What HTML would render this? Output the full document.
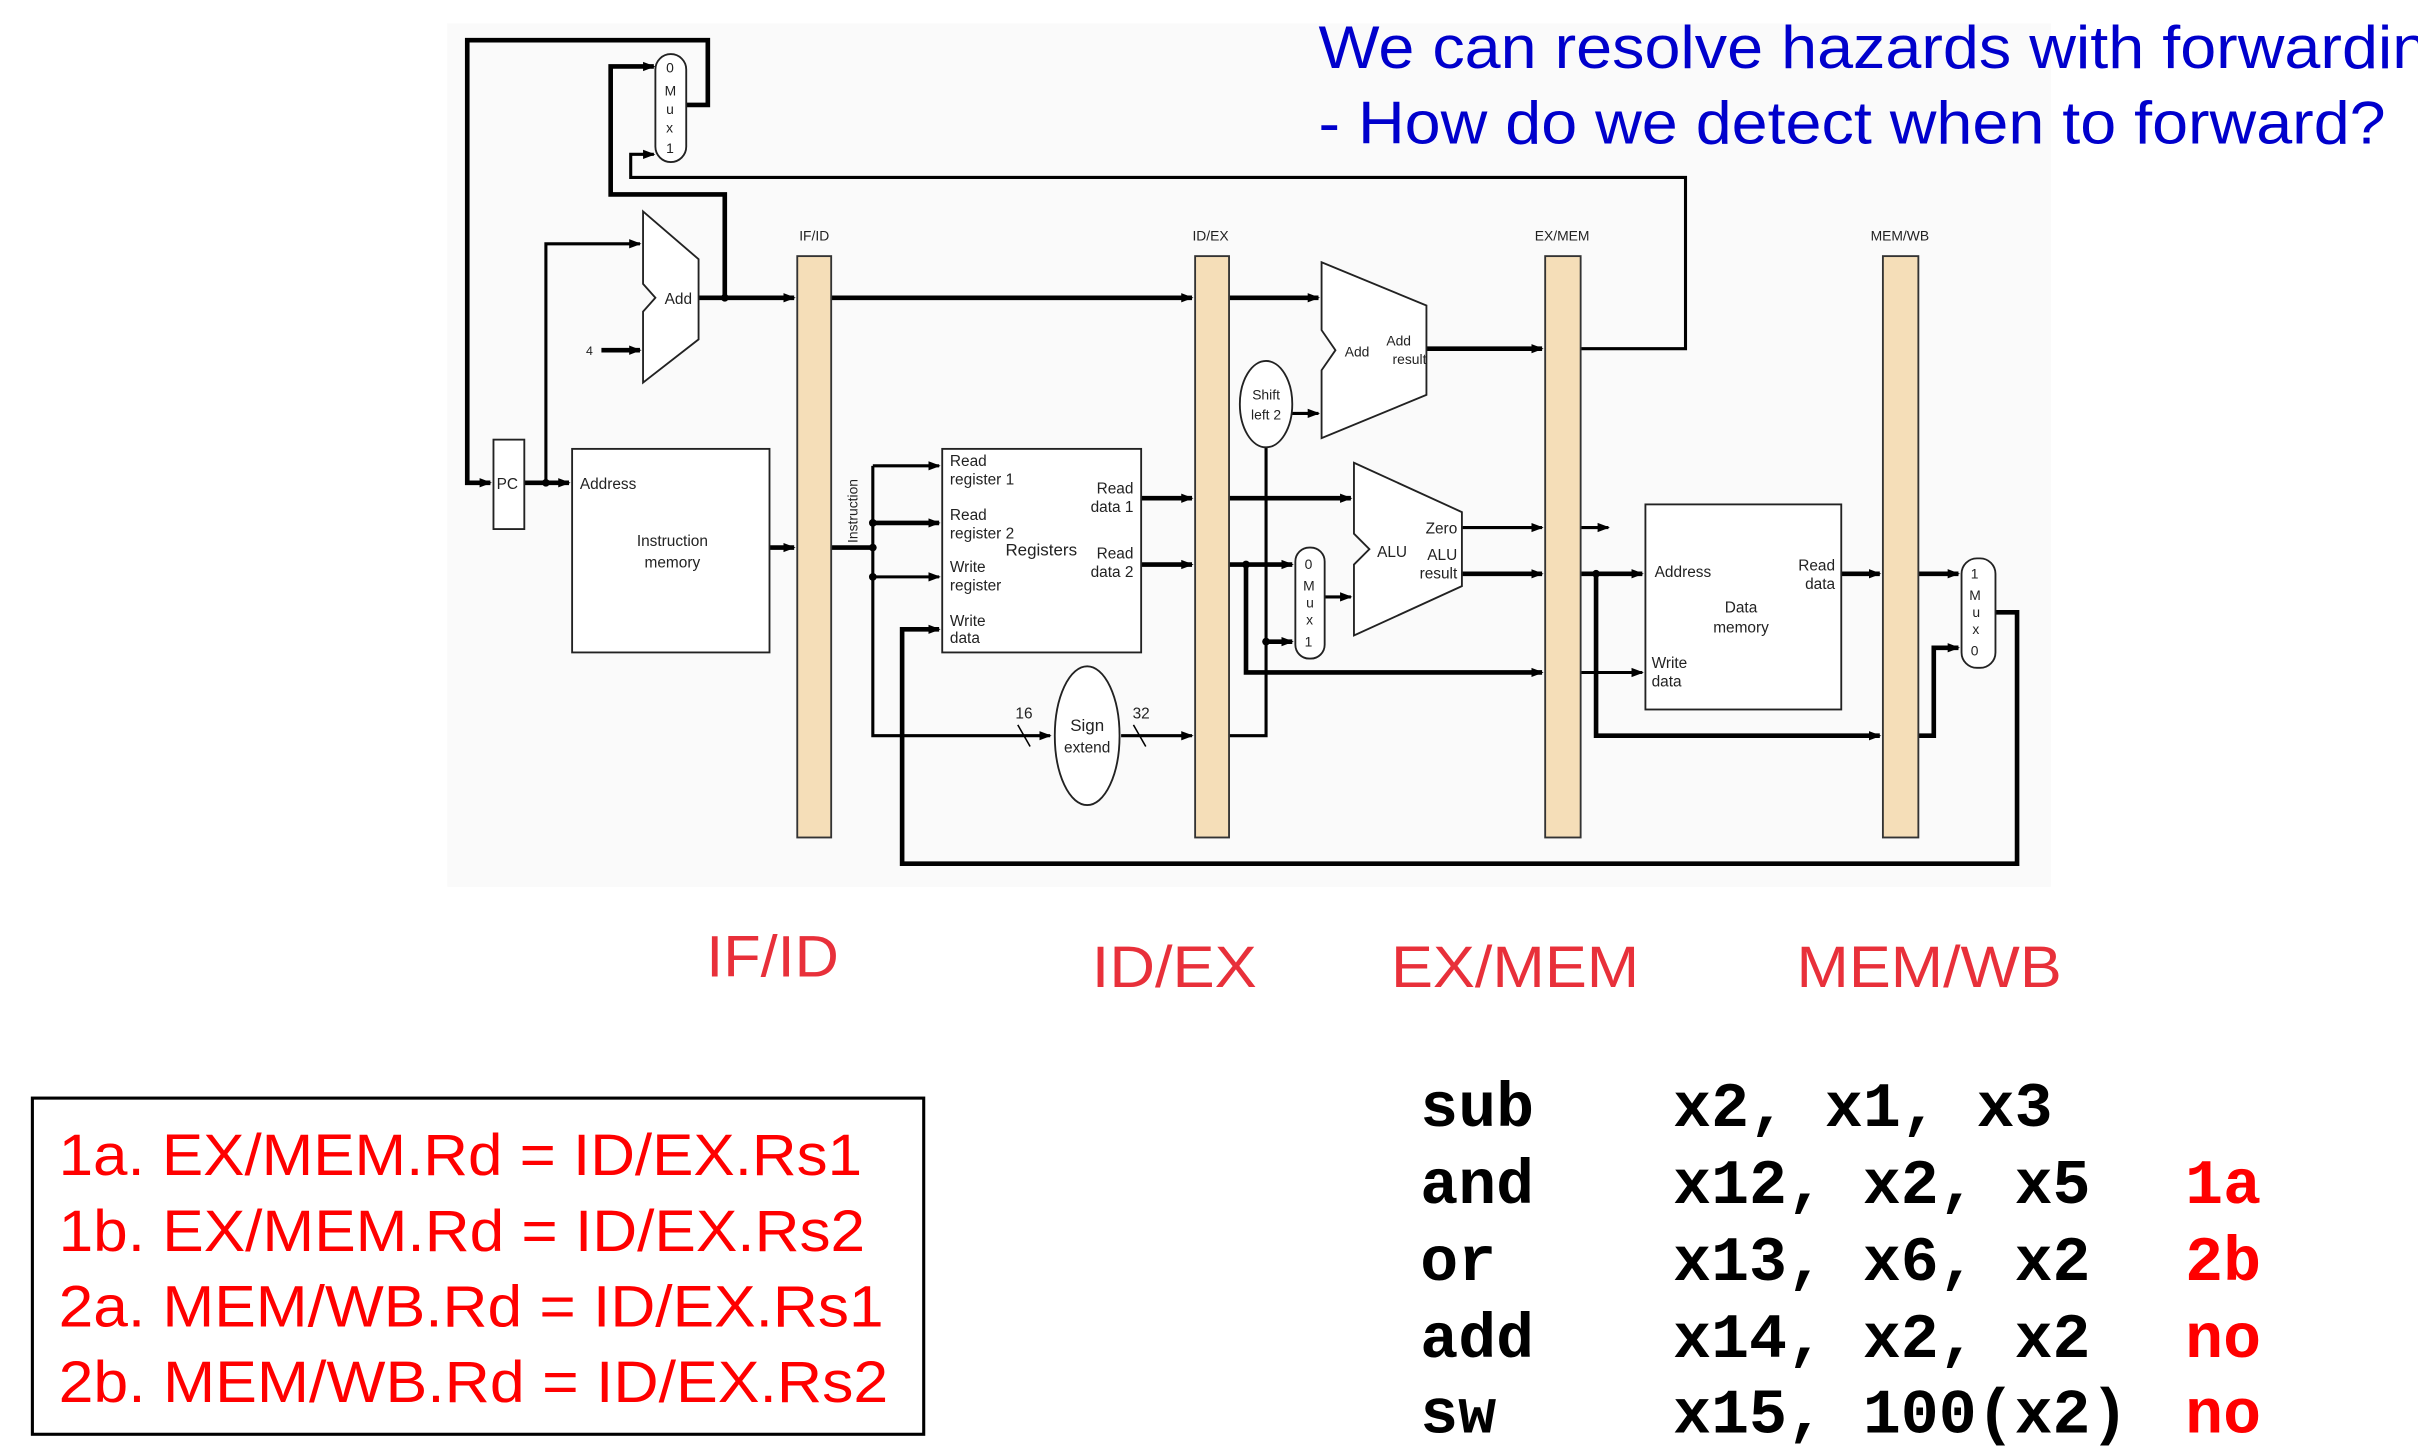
<!DOCTYPE html>
<html><head><meta charset="utf-8"><style>
html,body{margin:0;padding:0;background:#fff;}
svg{display:block;}
.s{font-family:"Liberation Sans",sans-serif;font-size:10px;fill:#222;}
</style></head><body>
<svg width="2418" height="1456" viewBox="0 0 1568 944" xmlns="http://www.w3.org/2000/svg">
<defs><marker id="a" markerWidth="8" markerHeight="8" refX="7" refY="4" orient="auto" markerUnits="userSpaceOnUse"><path d="M0,1 L8,4 L0,7 z" fill="#000"/></marker></defs>
<rect x="290" y="15" width="1040" height="560" fill="#fafafa"/>
<g fill="none" stroke="#000" stroke-width="3">
<polyline points="445,68 459,68 459,26 303,26 303,313 318,313" marker-end="url(#a)"/>
<polyline points="470,193 470,126 396,126 396,43 424,43" marker-end="url(#a)"/>
<polyline points="1025,226 1093,226 1093,115 409,115 409,100 424,100" stroke-width="2" marker-end="url(#a)"/>
<polyline points="340,313 369,313" marker-end="url(#a)"/>
<polyline points="354,313 354,158 415,158" stroke-width="2" marker-end="url(#a)"/>
<polyline points="390,227 415,227" marker-end="url(#a)"/>
<polyline points="453,193 515,193" marker-end="url(#a)"/>
<polyline points="539,193 773,193" marker-end="url(#a)"/>
<polyline points="797,193 855,193" marker-end="url(#a)"/>
<polyline points="499,355 515,355" marker-end="url(#a)"/>
<polyline points="539,355 566,355"/>
<polyline points="566,302 566,477 681,477" stroke-width="2" marker-end="url(#a)"/>
<polyline points="566,302 609,302" stroke-width="2" marker-end="url(#a)"/>
<polyline points="566,339 609,339" marker-end="url(#a)"/>
<polyline points="566,374 609,374" stroke-width="2" marker-end="url(#a)"/>
<polyline points="1293,397 1308,397 1308,560 585,560 585,408 609,408" marker-end="url(#a)"/>
<polyline points="727,477 773,477" stroke-width="2" marker-end="url(#a)"/>
<polyline points="740,323 773,323" marker-end="url(#a)"/>
<polyline points="740,366 773,366" marker-end="url(#a)"/>
<polyline points="797,323 876,323" marker-end="url(#a)"/>
<polyline points="797,366 838,366" marker-end="url(#a)"/>
<polyline points="797,477 821,477 821,290" stroke-width="2"/>
<polyline points="838,268 855,268" stroke-width="2" marker-end="url(#a)"/>
<polyline points="821,416 838,416" marker-end="url(#a)"/>
<polyline points="808,366 808,436 1000,436" marker-end="url(#a)"/>
<polyline points="859,387 876,387" stroke-width="2" marker-end="url(#a)"/>
<polyline points="925,226 1000,226" marker-end="url(#a)"/>
<polyline points="948,342 1000,342" stroke-width="2" marker-end="url(#a)"/>
<polyline points="1025,342 1043,342" stroke-width="2" marker-end="url(#a)"/>
<polyline points="948,372 1000,372" marker-end="url(#a)"/>
<polyline points="1025,372 1065,372" marker-end="url(#a)"/>
<polyline points="1025,436 1065,436" stroke-width="2" marker-end="url(#a)"/>
<polyline points="1035,372 1035,477 1219,477" marker-end="url(#a)"/>
<polyline points="1194,372 1219,372" marker-end="url(#a)"/>
<polyline points="1244,372 1270,372" marker-end="url(#a)"/>
<polyline points="1244,477 1254,477 1254,420 1270,420" marker-end="url(#a)"/>
<line x1="660" y1="470" x2="668" y2="484" stroke-width="1"/>
<line x1="735" y1="470" x2="743" y2="484" stroke-width="1"/>
</g>
<g fill="#000"><circle cx="470" cy="193" r="2.5"/><circle cx="354" cy="313" r="2.5"/><circle cx="566" cy="339" r="2.5"/><circle cx="566" cy="355" r="2.5"/><circle cx="566" cy="374" r="2.5"/><circle cx="808" cy="366" r="2.5"/><circle cx="821" cy="416" r="2.5"/><circle cx="1035" cy="372" r="2.5"/></g>
<g fill="#f5deb8" stroke="#333" stroke-width="1.2">
<rect x="517" y="166" width="22" height="377"/><rect x="775" y="166" width="22" height="377"/>
<rect x="1002" y="166" width="23" height="377"/><rect x="1221" y="166" width="23" height="377"/>
</g>
<g fill="#fff" stroke="#222" stroke-width="1.2">
<rect x="320" y="285" width="20" height="58"/>
<rect x="371" y="291" width="128" height="132"/>
<rect x="611" y="291" width="129" height="132"/>
<rect x="1067" y="327" width="127" height="133"/>
<rect x="425" y="35" width="20" height="70" rx="10"/>
<rect x="840" y="355" width="19" height="72" rx="9"/>
<rect x="1272" y="362" width="22" height="71" rx="10"/>
<ellipse cx="705" cy="477" rx="21" ry="45"/>
<ellipse cx="821" cy="262" rx="17" ry="28"/>
<polygon points="417,137 453,168 453,220 417,248 417,202 425,193 417,184"/>
<polygon points="857,170 925,198 925,256 857,284 857,240 866,227 857,214"/>
<polygon points="878,300 948,332 948,380 878,412 878,366 888,356 878,346"/>
</g>
<g class="s">
<text x="329" y="317" text-anchor="middle">PC</text>
<text x="376" y="317">Address</text>
<text x="436" y="354" text-anchor="middle">Instruction</text><text x="436" y="368" text-anchor="middle">memory</text>
<text x="432" y="47" font-size="9">0</text><text x="431" y="62" font-size="9">M</text><text x="432" y="74" font-size="9">u</text><text x="432" y="86" font-size="9">x</text><text x="432" y="99" font-size="9">1</text>
<text x="431" y="197">Add</text><text x="380" y="230" font-size="8">4</text>
<text x="528" y="156" text-anchor="middle" font-size="9">IF/ID</text>
<text x="785" y="156" text-anchor="middle" font-size="9">ID/EX</text>
<text x="1013" y="156" text-anchor="middle" font-size="9">EX/MEM</text>
<text x="1232" y="156" text-anchor="middle" font-size="9">MEM/WB</text>
<text transform="translate(556,352) rotate(-90)" font-size="9">Instruction</text>
<text x="616" y="302">Read</text><text x="616" y="314">register 1</text>
<text x="616" y="337">Read</text><text x="616" y="349">register 2</text>
<text x="616" y="371">Write</text><text x="616" y="383">register</text>
<text x="616" y="406">Write</text><text x="616" y="417">data</text>
<text x="652" y="360" font-size="11">Registers</text>
<text x="735" y="320" text-anchor="end">Read</text><text x="735" y="332" text-anchor="end">data 1</text>
<text x="735" y="362" text-anchor="end">Read</text><text x="735" y="374" text-anchor="end">data 2</text>
<text x="705" y="474" text-anchor="middle" font-size="11">Sign</text><text x="705" y="488" text-anchor="middle">extend</text>
<text x="664" y="466" text-anchor="middle">16</text><text x="740" y="466" text-anchor="middle">32</text>
<text x="821" y="259" text-anchor="middle" font-size="9">Shift</text><text x="821" y="272" text-anchor="middle" font-size="9">left 2</text>
<text x="872" y="231" font-size="9">Add</text><text x="915" y="224" text-anchor="end" font-size="9">Add</text><text x="925" y="236" text-anchor="end" font-size="9">result</text>
<text x="893" y="361">ALU</text><text x="945" y="346" text-anchor="end">Zero</text><text x="945" y="363" text-anchor="end">ALU</text><text x="945" y="375" text-anchor="end">result</text>
<text x="846" y="369" font-size="9">0</text><text x="845" y="383" font-size="9">M</text><text x="847" y="394" font-size="9">u</text><text x="847" y="405" font-size="9">x</text><text x="846" y="419" font-size="9">1</text>
<text x="1073" y="374">Address</text><text x="1129" y="397" text-anchor="middle">Data</text><text x="1129" y="410" text-anchor="middle">memory</text>
<text x="1071" y="433">Write</text><text x="1071" y="445">data</text>
<text x="1190" y="370" text-anchor="end">Read</text><text x="1190" y="382" text-anchor="end">data</text>
<text x="1278" y="375" font-size="9">1</text><text x="1277" y="389" font-size="9">M</text><text x="1279" y="400" font-size="9">u</text><text x="1279" y="411" font-size="9">x</text><text x="1278" y="425" font-size="9">0</text>
</g>
<g font-family="Liberation Sans,sans-serif" font-size="38" fill="#e8303a" lengthAdjust="spacingAndGlyphs">
<text x="458" y="633" textLength="86" lengthAdjust="spacingAndGlyphs">IF/ID</text>
<text x="708" y="640" textLength="107" lengthAdjust="spacingAndGlyphs">ID/EX</text>
<text x="902" y="640" textLength="161" lengthAdjust="spacingAndGlyphs">EX/MEM</text>
<text x="1165" y="640" textLength="172" lengthAdjust="spacingAndGlyphs">MEM/WB</text>
</g>
<g font-family="Liberation Sans,sans-serif" font-size="39" fill="#0000cc">
<text x="855" y="44" textLength="743" lengthAdjust="spacingAndGlyphs">We can resolve hazards with forwarding</text>
<text x="855" y="93" textLength="692" lengthAdjust="spacingAndGlyphs">- How do we detect when to forward?</text>
</g>
<rect x="21" y="712" width="578" height="218" fill="none" stroke="#000" stroke-width="2"/>
<g font-family="Liberation Sans,sans-serif" font-size="38" fill="#ff0000">
<text x="38" y="762" textLength="521" lengthAdjust="spacingAndGlyphs">1a. EX/MEM.Rd = ID/EX.Rs1</text>
<text x="38" y="811" textLength="523" lengthAdjust="spacingAndGlyphs">1b. EX/MEM.Rd = ID/EX.Rs2</text>
<text x="38" y="860" textLength="535" lengthAdjust="spacingAndGlyphs">2a. MEM/WB.Rd = ID/EX.Rs1</text>
<text x="38" y="909" textLength="538" lengthAdjust="spacingAndGlyphs">2b. MEM/WB.Rd = ID/EX.Rs2</text>
</g>
<g font-family="Liberation Mono,monospace" font-size="41" font-weight="bold" fill="#000" xml:space="preserve">
<text x="921" y="730">sub</text><text x="1085" y="730">x2, x1, x3</text>
<text x="921" y="780">and</text><text x="1085" y="780">x12, x2, x5</text>
<text x="921" y="830">or</text><text x="1085" y="830">x13, x6, x2</text>
<text x="921" y="880">add</text><text x="1085" y="880">x14, x2, x2</text>
<text x="921" y="929">sw</text><text x="1085" y="929">x15, 100(x2)</text>
</g>
<g font-family="Liberation Mono,monospace" font-size="41" font-weight="bold" fill="#ff0000">
<text x="1417" y="780">1a</text><text x="1417" y="830">2b</text><text x="1417" y="880">no</text><text x="1417" y="929">no</text>
</g>
</svg>
</body></html>
